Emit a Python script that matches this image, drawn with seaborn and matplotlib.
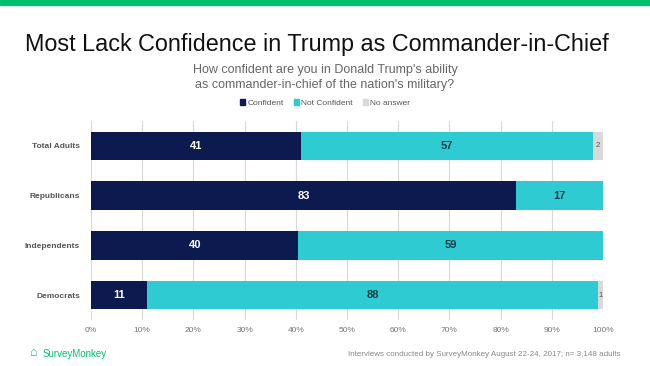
import matplotlib
matplotlib.use("Agg")
import matplotlib.pyplot as plt
import seaborn as sns
import pandas as pd
import numpy as np

groups = ["Total Adults", "Republicans", "Independents", "Democrats"]
confident = [41, 83, 40.5, 11]
not_confident = [57, 17, 59.5, 88]
no_answer = [2, 0, 0, 1]
confident_labels = ["41", "83", "40", "11"]
not_confident_labels = ["57", "17", "59", "88"]
no_answer_labels = ["2", "", "", "1"]
series = ["Confident", "Not Confident", "No answer"]
colors = ["#0d1a4f", "#2ecbd3", "#d9d9d9"]

sns.set_style("white")
plt.rcParams["font.family"] = ["Liberation Sans", "DejaVu Sans"]

fig = plt.figure(figsize=(6.5, 3.66), dpi=100)
ax = fig.add_axes([91/650, 1-320/366, 512/650, 199/366])

df = pd.DataFrame({"group": groups, "c": confident, "n": not_confident, "a": no_answer})
df["cum1"] = df["c"]
df["cum2"] = df["c"] + df["n"]
df["cum3"] = df["c"] + df["n"] + df["a"]

for col, colr in [("cum3", colors[2]), ("cum2", colors[1]), ("cum1", colors[0])]:
    sns.barplot(data=df, y="group", x=col, orient="h", color=colr, width=0.57,
                saturation=1, ax=ax, linewidth=0, order=groups)

for i in range(len(groups)):
    c, n, a = confident[i], not_confident[i], no_answer[i]
    ax.text(c/2, i, confident_labels[i], ha="center", va="center", color="white",
            fontsize=8, fontweight="bold")
    ax.text(c + n/2, i, not_confident_labels[i], ha="center", va="center", color="#1c3a48",
            fontsize=8, fontweight="bold")
    if no_answer_labels[i]:
        ax.text(c + n + a/2, i, no_answer_labels[i], ha="center", va="center", color="#555555",
                fontsize=5.5)

ax.set_xlim(0, 100)
ax.set_ylim(3.5, -0.5)
ax.set_xticks(np.arange(0, 101, 10))
ax.set_xticklabels([f"{v}%" for v in range(0, 101, 10)], color="#777777", fontsize=6)
ax.set_yticklabels(groups, fontsize=6, fontweight="bold", color="#555555")
ax.tick_params(axis="both", length=0, pad=8)
ax.tick_params(axis="x", pad=5)
ax.xaxis.grid(True, color="#d9d9d9", linewidth=0.8)
ax.set_axisbelow(True)
for s in ax.spines.values():
    s.set_visible(False)
ax.set_xlabel("")
ax.set_ylabel("")

# top green bar
fig.patches.append(plt.Rectangle((0, 1-5/366), 1, 5/366, transform=fig.transFigure,
                                 color="#00bf6f", zorder=0))

fig.text(25/650, 1-45/366, "Most Lack Confidence in Trump as Commander-in-Chief",
         fontsize=16.8, color="#111111", ha="left", va="center")
fig.text(0.5, 1-70/366, "How confident are you in Donald Trump's ability",
         fontsize=9, color="#666666", ha="center", va="center")
fig.text(0.5, 1-85/366, "as commander-in-chief of the nation's military?",
         fontsize=9, color="#666666", ha="center", va="center")

# legend
handles = [plt.Rectangle((0, 0), 1, 1, color=c) for c in colors]
fig.legend(handles, series, loc="center", bbox_to_anchor=(0.5, 1-103/366), ncol=3,
           frameon=False, fontsize=6, handlelength=0.6, handleheight=0.6,
           handletextpad=0.3, columnspacing=1.2, labelcolor="#555555")

fig.text(30/650, 1-353/366, "\u2302", fontsize=9, color="#00bf6f",
         ha="left", va="center", fontweight="bold")
fig.text(43/650, 1-354/366, "SurveyMonkey", fontsize=7, color="#00bf6f",
         ha="left", va="center")
fig.text(620/650, 1-355/366,
         "Interviews conducted by SurveyMonkey August 22-24, 2017; n= 3,148 adults",
         fontsize=5.8, color="#888888", ha="right", va="center")

fig.savefig("out.png", dpi=100)
